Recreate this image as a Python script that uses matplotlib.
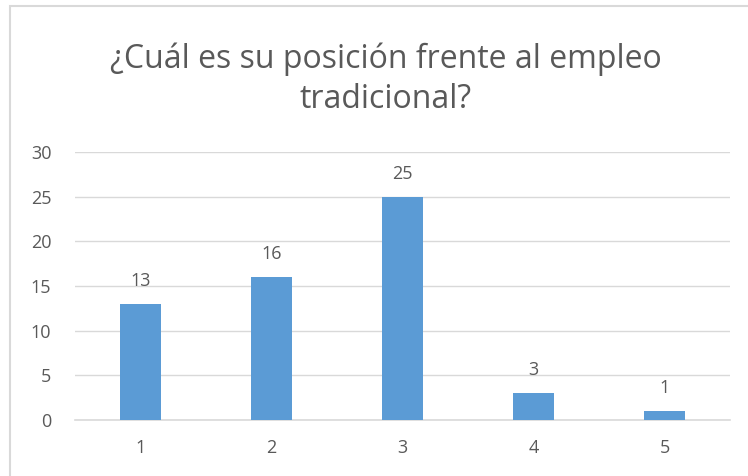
import matplotlib.pyplot as plt
from matplotlib.patches import Rectangle

# ---------- Data ----------
categories = ['1', '2', '3', '4', '5']
values = [13, 16, 25, 3, 1]
yticks = [0, 5, 10, 15, 20, 25, 30]

title = '¿Cuál es su posición frente al empleo\ntradicional?'
bar_color = '#5B9BD5'
text_color = '#595959'
grid_color = '#D9D9D9'

plt.rcParams['font.family'] = ['Open Sans', 'DejaVu Sans']

fig = plt.figure(figsize=(7.48, 4.76), dpi=100)
ax = fig.add_axes([75 / 748, 1 - 420 / 476, 655 / 748, 268 / 476])

x = range(len(categories))
bars = ax.bar(x, values, width=0.31, color=bar_color, zorder=3)

for xi, v in zip(x, values):
    ax.annotate(str(v), (xi, v), xytext=(0, 10), textcoords='offset points',
                ha='center', va='bottom', fontsize=13, color=text_color)

ax.set_xlim(-0.5, len(categories) - 0.5)
ax.set_ylim(0, 30)
ax.set_yticks(yticks)
ax.set_xticks(list(x))
ax.set_xticklabels(categories)
ax.grid(axis='y', color=grid_color, linewidth=1, zorder=0)
for s in ['top', 'right', 'left']:
    ax.spines[s].set_visible(False)
ax.spines['bottom'].set_color(grid_color)
ax.spines['bottom'].set_linewidth(1.2)
ax.tick_params(axis='both', length=0, labelsize=13, labelcolor=text_color)
ax.tick_params(axis='x', pad=14)
ax.tick_params(axis='y', pad=17)

fig.text(386 / 748, 1 - 79 / 476, title, ha='center', va='center',
         fontsize=23, color=text_color, linespacing=1.3)

# outer chart border
fig.patches.append(Rectangle((10 / 748, -0.05), 1.1, 1 - 6 / 476 + 0.05,
                             transform=fig.transFigure, fill=False,
                             edgecolor='#D9D9D9', linewidth=1.5))

fig.savefig('out.png', dpi=100)
